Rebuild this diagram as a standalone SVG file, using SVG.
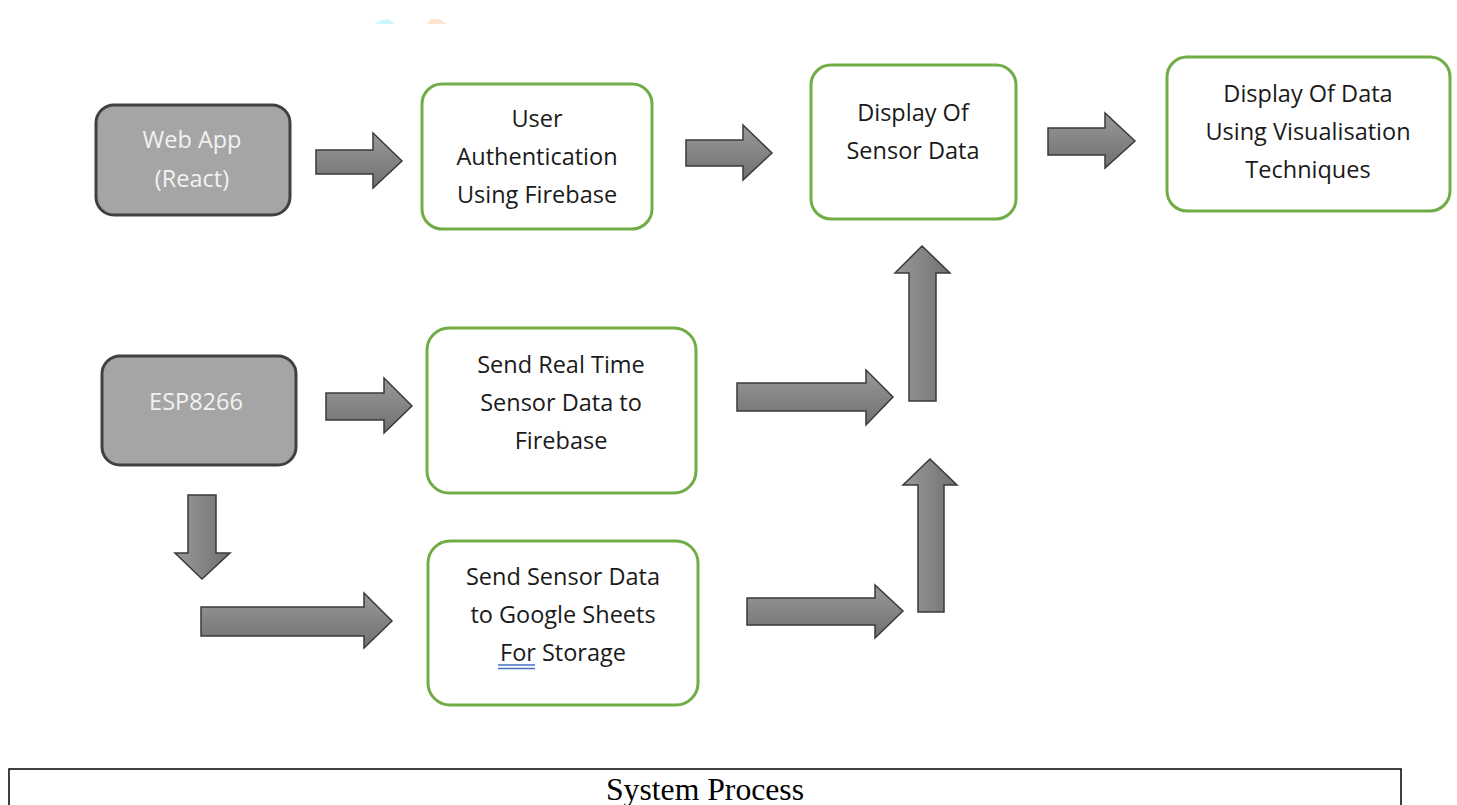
<svg xmlns="http://www.w3.org/2000/svg" width="1457" height="805" viewBox="0 0 1457 805">
<style>
.g{fill:#a5a5a5;stroke:#404040;stroke-width:3}
.w{fill:#fff;stroke:#70ad47;stroke-width:3}
.t{font-family:"Open Sans","Noto Sans",sans-serif;font-size:23.5px;fill:#1a1a1a;text-anchor:middle}
.tw{font-family:"Open Sans","Noto Sans",sans-serif;font-size:23.5px;fill:#f2f2f2;text-anchor:middle}
.a{fill:url(#ag);stroke:#3a3a3a;stroke-width:1.5;stroke-linejoin:miter}
</style>
<defs>
<linearGradient id="ag" x1="0" y1="0" x2="0" y2="1"><stop offset="0" stop-color="#999"/><stop offset="1" stop-color="#707070"/></linearGradient>
<linearGradient id="agv" x1="0" y1="0" x2="1" y2="0"><stop offset="0" stop-color="#999"/><stop offset="1" stop-color="#707070"/></linearGradient>
</defs>
<rect width="1457" height="805" fill="#fff"/>
<path d="M374 24 L381 20 L388 19 L395 24 Z" fill="#ccf7fb"/>
<path d="M427 24 L431 19 L439 19 L447 24 Z" fill="#fde6d0"/>
<g id="connectors">
<path class="a" d="M316 150 H373 V133 L402 161 L373 188 V174 H316 Z"/>
<path class="a" d="M686 140 H743 V125 L772 153 L743 180 V166 H686 Z"/>
<path class="a" d="M1048 128 H1105 V113 L1135 141 L1105 168 V155 H1048 Z"/>
<path class="a" d="M326 393 H384 V378 L412 406 L384 433 V420 H326 Z"/>
<path class="a" d="M737 383 H866 V370 L893 397 L866 425 V411 H737 Z"/>
<path class="a" d="M747 598 H875 V585 L903 611 L875 638 V625 H747 Z"/>
<path class="a" d="M201 607 H364 V593 L392 621 L364 648 V636 H201 Z"/>
<path class="a" style="fill:url(#agv)" d="M188 495 H216 V553 H230 L202 579 L175 553 H188 Z"/>
<path class="a" style="fill:url(#agv)" d="M909 401 V273 H895 L922 246 L950 273 H936 V401 Z"/>
<path class="a" style="fill:url(#agv)" d="M918 612 V485 H903 L930 459 L957 485 H944 V612 Z"/>
</g>
<g id="webapp">
<rect class="g" x="96" y="105" width="194" height="110" rx="18"/>
<text class="tw" x="192" y="148">Web App</text>
<text class="tw" x="192" y="187">(React)</text>
</g>
<g id="auth">
<rect class="w" x="422" y="84" width="230" height="145" rx="20"/>
<text class="t" x="537" y="127">User</text>
<text class="t" x="537" y="165">Authentication</text>
<text class="t" x="537" y="203">Using Firebase</text>
</g>
<g id="display-sensor">
<rect class="w" x="811" y="65" width="205" height="154" rx="20"/>
<text class="t" x="913" y="121">Display Of</text>
<text class="t" x="913" y="159">Sensor Data</text>
</g>
<g id="display-data">
<rect class="w" x="1167" y="57" width="283" height="154" rx="20"/>
<text class="t" x="1308" y="102">Display Of Data</text>
<text class="t" x="1308" y="140">Using Visualisation</text>
<text class="t" x="1308" y="178">Techniques</text>
</g>
<g id="esp">
<rect class="g" x="102" y="356" width="194" height="109" rx="18"/>
<text class="tw" x="196" y="410">ESP8266</text>
</g>
<g id="send-rt">
<rect class="w" x="427" y="328" width="269" height="165" rx="22"/>
<text class="t" x="561" y="373">Send Real Time</text>
<text class="t" x="561" y="411">Sensor Data to</text>
<text class="t" x="561" y="449">Firebase</text>
</g>
<g id="send-gs">
<rect class="w" x="428" y="541" width="270" height="164" rx="22"/>
<text class="t" x="563" y="585">Send Sensor Data</text>
<text class="t" x="563" y="623">to Google Sheets</text>
<text class="t" x="563" y="661">For Storage</text>
<path d="M498 665 H535 M498 668.5 H535" stroke="#4472c4" stroke-width="1.5"/>
</g>
<g id="caption">
<rect x="9" y="769" width="1392" height="40" fill="none" stroke="#000" stroke-width="1.5"/>
<text x="705" y="800" font-family="Liberation Serif,serif" font-size="32" text-anchor="middle" fill="#000" textLength="198" lengthAdjust="spacingAndGlyphs">System Process</text>
</g>
</svg>
